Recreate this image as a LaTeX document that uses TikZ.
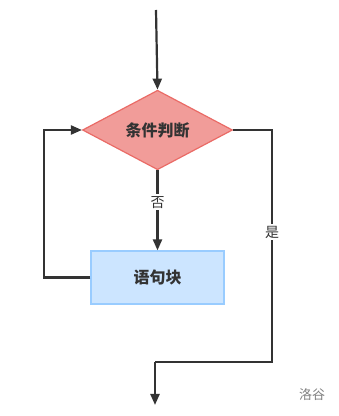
\documentclass[tikz,border=0pt]{standalone}
\usepackage{fontspec}
\newfontfamily\cjk{Noto Sans CJK SC}
\usetikzlibrary{shapes.geometric,arrows.meta}
\definecolor{linec}{HTML}{333333}
\definecolor{dfill}{HTML}{F19C99}
\definecolor{ddraw}{HTML}{EA6B66}
\definecolor{bfill}{HTML}{CCE5FF}
\definecolor{bdraw}{HTML}{99CCFF}
\tikzset{
  conn/.style={draw=linec, line width=2.2pt, -{Triangle[length=11pt,width=9pt]}},
  plain/.style={draw=linec, line width=2.2pt},
  decision/.style={diamond, draw=ddraw, fill=dfill, line width=1.2pt, minimum width=150pt, minimum height=66pt, inner sep=0pt, font=\cjk\bfseries\fontsize{16}{16}\selectfont, text=linec},
  block/.style={rectangle, draw=bdraw, fill=bfill, line width=1.2pt, minimum width=133pt, minimum height=53pt, font=\cjk\bfseries\fontsize{16}{16}\selectfont, text=linec},
  lbl/.style={fill=white, inner sep=2pt, font=\cjk\fontsize{14}{14}\selectfont, text=linec},
}
\begin{document}
\begin{tikzpicture}[x=1pt,y=1pt]
\useasboundingbox[fill=white] (0,0) rectangle (339,416);
\coordinate (start) at (156,406);
\node[decision] (cond) at (157.5,286) {条件判断};
\node[block] (stmt) at (157.5,138.5) {语句块};
\coordinate (rtop) at (272,286);
\coordinate (rbot) at (272,54);
\coordinate (lbot) at (155,54);
\coordinate (endp) at (155,11);
\coordinate (ll) at (44,138.5);
\coordinate (lt) at (44,286);
\draw[conn] (start) -- (cond.north);
\draw[conn] (cond.south) -- node[lbl, pos=0.4] {否} (stmt.north);
\draw[plain] (cond.east) -- (rtop) -- node[lbl, pos=0.44] {是} (rbot) -- (lbot);
\draw[conn] (lbot) -- (endp);
\draw[conn] (stmt.west) -- (ll) -- (lt) -- (cond.west);
\node[font=\cjk\fontsize{13}{13}\selectfont, text=gray] (mark) at (312,21) {洛谷};
\end{tikzpicture}
\end{document}
